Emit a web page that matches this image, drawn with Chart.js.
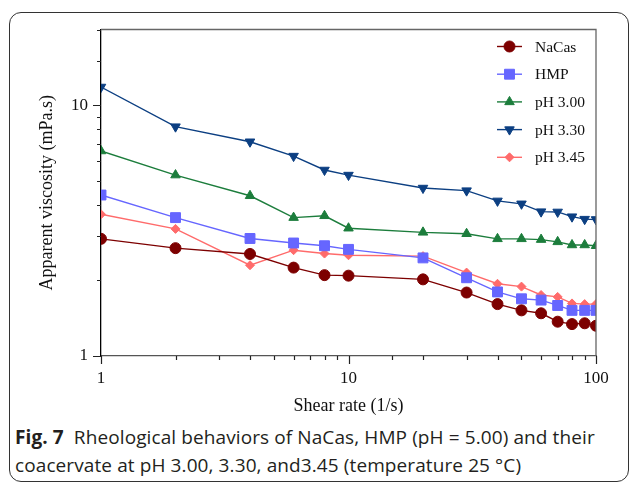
<!DOCTYPE html>
<html>
<head>
<meta charset="utf-8">
<script src="https://cdn.jsdelivr.net/npm/chart.js@4/dist/chart.umd.min.js"></script>
<style>
  body { margin: 0; background: #fff; width: 629px; height: 484px; overflow: hidden; position: relative; }
  #frame { position: absolute; left: 9px; top: 12px; width: 618px; height: 468px; border: 1.3px solid #333; border-radius: 12px; }
  #wrap { position: absolute; left: 0; top: 0; width: 629px; height: 420px; }
  #caption { position: absolute; left: 15px; top: 423px; font-family: "Open Sans", sans-serif; font-size: 19px; letter-spacing: 0.1px; line-height: 28px; color: #231f20; white-space: nowrap; }
</style>
</head>
<body>
<div id="frame"></div>
<div id="wrap"><canvas id="chart"></canvas></div>
<div id="caption"><b>Fig. 7</b>&nbsp; Rheological behaviors of NaCas, HMP (pH = 5.00) and their<br>coacervate at pH 3.00, 3.30, and3.45 (temperature 25 °C)</div>
<script>
// values
const shearRate = [1, 2, 4, 6, 8, 10, 20, 30, 40, 50, 60, 70, 80, 90, 100];
const naCas = [2.93, 2.69, 2.55, 2.25, 2.10, 2.09, 2.02, 1.79, 1.61, 1.52, 1.48, 1.37, 1.34, 1.35, 1.32];
const hmp = [4.38, 3.56, 2.94, 2.82, 2.75, 2.66, 2.46, 2.05, 1.80, 1.69, 1.67, 1.59, 1.52, 1.52, 1.52];
const ph300 = [6.56, 5.26, 4.35, 3.56, 3.62, 3.23, 3.11, 3.07, 2.93, 2.93, 2.91, 2.85, 2.77, 2.77, 2.75];
const ph330 = [11.8, 8.2, 7.14, 6.26, 5.51, 5.26, 4.67, 4.56, 4.15, 4.04, 3.76, 3.75, 3.59, 3.51, 3.50];
const ph345 = [3.67, 3.21, 2.30, 2.64, 2.56, 2.52, 2.50, 2.15, 1.94, 1.89, 1.75, 1.72, 1.62, 1.61, 1.61];
const seriesNames = ['NaCas', 'HMP', 'pH 3.00', 'pH 3.30', 'pH 3.45'];
const xTickLabels = [1, 10, 100];
const yTickLabels = [1, 10];

const serif = 'Liberation Serif, Times New Roman, serif';

function pts(vals) {
    return shearRate.map((x, i) => ({ x: x, y: vals[i] }));
}

function isDecade(v) {
    const l = Math.log10(v);
    return Math.abs(l - Math.round(l)) < 1e-6;
}

function series(label, vals, color, style, radius, rotation) {
    return {
        label: label,
        data: pts(vals),
        borderColor: color,
        backgroundColor: color,
        pointBackgroundColor: color,
        pointBorderColor: color,
        borderWidth: 1.4,
        pointStyle: style,
        pointRadius: radius,
        pointHoverRadius: radius,
        pointRotation: rotation || 0,
        pointBorderWidth: 1,
        showLine: true,
        tension: 0
    };
}

// ticks (long at decades, short in between) plus the grey top/right frame
const axisTicks = {
    id: 'axisTicks',
    afterDraw(chart) {
        const { ctx, chartArea: a, scales: { x, y } } = chart;
        ctx.save();
        ctx.strokeStyle = '#666';
        ctx.lineWidth = 1.3;
        ctx.beginPath();
        ctx.moveTo(a.left, a.top);
        ctx.lineTo(a.right, a.top);
        ctx.lineTo(a.right, a.bottom);
        ctx.stroke();

        ctx.strokeStyle = '#222';
        ctx.lineWidth = 1.2;
        ctx.beginPath();
        x.ticks.forEach(t => {
            const px = Math.round(x.getPixelForValue(t.value)) + 0.5;
            const len = isDecade(t.value) ? 8 : 4;
            ctx.moveTo(px, a.bottom);
            ctx.lineTo(px, a.bottom + len);
        });
        y.ticks.forEach(t => {
            const py = Math.round(y.getPixelForValue(t.value)) + 0.5;
            const len = isDecade(t.value) ? 8 : 4;
            ctx.moveTo(a.left, py);
            ctx.lineTo(a.left - len, py);
        });
        ctx.stroke();
        ctx.restore();
    }
};

// legend inside the plot, top right: line segment with the marker on it
const insideLegend = {
    id: 'insideLegend',
    afterDraw(chart) {
        const ctx = chart.ctx;
        const a = chart.chartArea;
        const x0 = a.right - 99;
        let yy = a.top + 17;
        ctx.save();
        chart.data.datasets.forEach(ds => {
            ctx.strokeStyle = ds.borderColor;
            ctx.lineWidth = 1.4;
            ctx.beginPath();
            ctx.moveTo(x0, yy);
            ctx.lineTo(x0 + 25, yy);
            ctx.stroke();
            ctx.fillStyle = ds.pointBackgroundColor;
            ctx.strokeStyle = ds.pointBorderColor;
            ctx.lineWidth = 1;
            Chart.helpers.drawPoint(ctx, {
                pointStyle: ds.pointStyle,
                radius: ds.pointRadius,
                rotation: ds.pointRotation,
                borderWidth: 1
            }, x0 + 12.5, yy);
            ctx.fillStyle = '#111';
            ctx.font = '15.5px ' + serif;
            ctx.textBaseline = 'middle';
            ctx.textAlign = 'left';
            ctx.fillText(ds.label, x0 + 38, yy + 1);
            yy += 27.7;
        });
        ctx.restore();
    }
};

const ctx = document.getElementById('chart').getContext('2d');
new Chart(ctx, {
    type: 'scatter',
    data: {
        datasets: [
            series(seriesNames[0], naCas, '#7d0000', 'circle', 5.5),
            series(seriesNames[1], hmp, '#6666ff', 'rect', 7),
            series(seriesNames[2], ph300, '#1c7d3c', 'triangle', 5.5),
            series(seriesNames[3], ph330, '#0c3f82', 'triangle', 5.5, 180),
            series(seriesNames[4], ph345, '#ff6b6b', 'rectRot', 4.5)
        ]
    },
    options: {
        responsive: true,
        maintainAspectRatio: false,
        animation: false,
        events: [],
        layout: { padding: { top: 29.5, right: 33, left: 0, bottom: 0 } },
        plugins: {
            legend: { display: false },
            tooltip: { enabled: false }
        },
        scales: {
            x: {
                type: 'logarithmic',
                min: 1,
                max: 100,
                grid: { display: false, drawTicks: false },
                border: { display: true, color: '#555', width: 1.3 },
                ticks: {
                    autoSkip: false,
                    maxRotation: 0,
                    padding: 12,
                    color: '#111',
                    font: { family: serif, size: 17 },
                    callback: v => xTickLabels.some(t => Math.abs(t - v) < 1e-6) ? String(Math.round(v)) : ''
                },
                title: {
                    display: true,
                    text: 'Shear rate (1/s)',
                    color: '#111',
                    font: { family: serif, size: 18 },
                    padding: { top: 0, bottom: 3 }
                },
                afterFit: s => { s.height = 64; }
            },
            y: {
                type: 'logarithmic',
                min: 1,
                max: 20,
                grid: { display: false, drawTicks: false },
                border: { display: true, color: '#000', width: 1.3 },
                ticks: {
                    autoSkip: false,
                    padding: 13,
                    color: '#111',
                    font: { family: serif, size: 17 },
                    callback: v => yTickLabels.some(t => Math.abs(t - v) < 1e-6) ? String(Math.round(v)) : ''
                },
                title: {
                    display: true,
                    text: 'Apparent viscosity (mPa.s)',
                    color: '#111',
                    font: { family: serif, size: 18 },
                    padding: { top: 36, bottom: 0 }
                },
                afterFit: s => { s.width = 101; }
            }
        }
    },
    plugins: [axisTicks, insideLegend]
});
</script>
</body>
</html>
